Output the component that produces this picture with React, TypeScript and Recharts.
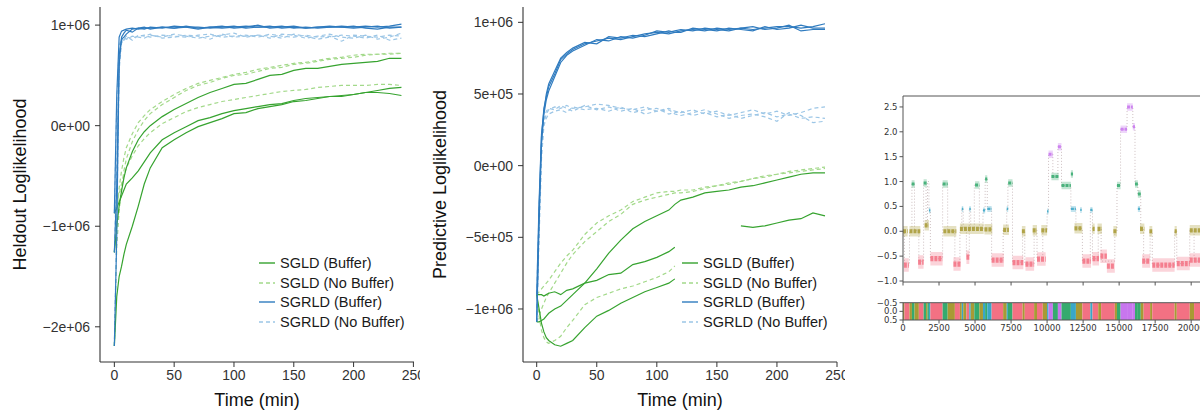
import React from 'react';
import { LineChart, Line, XAxis, YAxis, ReferenceArea, ReferenceLine } from 'recharts';

const FONT = '"Liberation Sans", Arial, sans-serif';
const PY_FONT = '"DejaVu Sans", sans-serif';

// ---- left panel: heldout loglikelihood (values in 1e4 units) ----
const heldTime = [0, 2, 4, 6, 8, 10, 15, 20, 25, 30, 40, 50, 60, 70, 80, 90, 100, 110, 120, 130, 140, 150, 160, 170, 180, 190, 200, 210, 220, 230, 240];
const heldSgldBuffer = [
  [-126, -100, -80, -65, -52, -42, -26, -14, -6, 0, 9, 16, 22, 28, 33, 37, 41, 42, 46, 50, 51, 55, 57, 57, 59, 61, 62, 63, 64, 67, 67],
  [-87, -82, -76, -70, -64, -58, -52, -45, -36, -27, -14, -7, -1, 5, 8, 12, 15, 17, 19, 21, 22, 25, 27, 28, 29, 29, 31, 33, 35, 37, 38],
  [-219, -170, -150, -140, -128, -118, -100, -80, -58, -42, -22, -14, -7, -1, 3, 7, 12, 13, 17, 19, 21, 24, 25, 27, 29, 30, 31, 33, 33, 32, 30],
];
const heldSgldNoBuffer = [
  [-126, -90, -62, -45, -32, -22, -8, 3, 10, 16, 24, 31, 37, 42, 45, 48, 51, 53, 56, 58, 60, 62, 63, 65, 67, 68, 70, 71, 71, 72, 72],
  [-219, -120, -85, -62, -45, -33, -16, -4, 5, 12, 21, 28, 35, 40, 43, 47, 50, 51, 54, 57, 58, 61, 62, 64, 66, 67, 68, 70, 71, 71, 72],
  [-87, -78, -68, -58, -50, -42, -30, -20, -13, -7, 2, 8, 14, 18, 21, 24, 26, 28, 30, 32, 34, 35, 36, 38, 39, 40, 40, 40, 41, 41, 40],
];
const heldSgrldBuffer = [
  [-87, 30, 88, 94, 95, 96, 97, 96, 97, 97, 98, 97, 99, 97, 98, 97, 98, 99, 98, 99, 97, 98, 97, 98, 98, 99, 98, 99, 98, 99, 101],
  [-126, -60, 60, 88, 92, 95, 93, 97, 96, 98, 97, 99, 98, 96, 98, 99, 97, 98, 100, 97, 98, 99, 97, 98, 99, 98, 97, 98, 99, 97, 98],
  [-219, -110, 70, 86, 88, 91, 96, 97, 98, 96, 98, 97, 98, 98, 97, 98, 99, 97, 98, 98, 99, 97, 98, 97, 98, 98, 99, 97, 96, 98, 98],
];
const heldSgrldNoBuffer = [
  [-87, 20, 80, 86, 85, 88, 87, 89, 90, 88, 90, 89, 88, 90, 91, 88, 89, 90, 88, 91, 89, 88, 90, 88, 89, 84, 90, 89, 88, 90, 89],
  [-126, -40, 72, 84, 88, 86, 89, 88, 87, 90, 88, 91, 89, 87, 89, 90, 92, 88, 90, 87, 91, 90, 87, 89, 91, 88, 87, 90, 86, 88, 92],
  [-219, -100, 55, 82, 86, 89, 85, 90, 89, 91, 87, 88, 90, 89, 86, 91, 88, 89, 90, 89, 87, 91, 89, 86, 88, 90, 89, 87, 90, 85, 87],
];
const heldTicks = [-2e6, -1e6, 0, 1e6];
const heldTickLabels = ['−2e+06', '−1e+06', '0e+00', '1e+06'];

// ---- middle panel: predictive loglikelihood (values in 1e4 units) ----
const predTime = [0, 2, 4, 6, 8, 10, 15, 20, 25, 30, 40, 50, 60, 70, 80, 90, 100, 110, 115, 120, 130, 140, 150, 160, 170, 180, 190, 200, 210, 220, 230, 240];
const _ = null;
const predSgldBuffer = [
  [-109, -109, -108, -107, -105, -103, -100, -98, -94, -90, -82, -72, -61, -52, -44, -39, -35, -31, -27, -24, -22, -19, -18, -17, -15, -14, -12, -10, -8, -6, -5, -5],
  [-90, -90, -90, -91, -90, -89, -88, -90, -87, -86, -82, -80, -76, -75, -69, -67, -64, -60, -57, _, _, _, _, _, _, _, _, _, _, _, _, _],
  [-90, -100, -110, -116, -120, -122, -125, -126, -124, -122, -113, -105, -101, -96, -92, -88, -85, -82, -79, _, _, _, _, _, _, _, _, _, _, _, _, _],
  [_, _, _, _, _, _, _, _, _, _, _, _, _, _, _, _, _, _, _, _, _, _, _, _, -42, -43, -42, -40, -38, -37, -33, -35],
];
const predSgldNoBuffer = [
  [-90, -88, -86, -84, -82, -80, -74, -68, -63, -59, -48, -40, -35, -31, -25, -22, -19, -18, -18, -17, -17, -15, -14, -12, -11, -9, -7, -6, -4, -3, -2, -1],
  [-109, -105, -100, -96, -92, -89, -82, -75, -68, -62, -53, -46, -39, -34, -27, -24, -22, -20, -19, -19, -18, -16, -14, -13, -11, -9, -8, -6, -5, -4, -3, -2],
  [-90, -105, -115, -120, -123, -124, -122, -119, -113, -108, -97, -92, -89, -86, -84, -81, -78, -74, -70, _, _, _, _, _, _, _, _, _, _, _, _, _],
];
const predSgrldBuffer = [
  [-109, -30, 20, 40, 48, 55, 64, 74, 78, 81, 85, 87, 89, 88, 90, 92, 93, 92, 93, 94, 95, 94, 96, 95, 96, 95, 96, 97, 97, 96, 97, 99],
  [-109, -40, 15, 36, 46, 52, 62, 72, 77, 80, 84, 88, 87, 90, 89, 91, 94, 93, 94, 95, 94, 96, 95, 94, 96, 97, 95, 96, 98, 94, 95, 95],
  [-90, -25, 22, 38, 50, 57, 66, 75, 79, 82, 86, 85, 90, 89, 91, 90, 92, 94, 93, 93, 96, 95, 94, 96, 95, 94, 97, 95, 96, 98, 96, 96],
];
const predSgrldNoBuffer = [
  [-109, -40, 10, 30, 36, 39, 41, 40, 42, 40, 41, 43, 42, 40, 39, 41, 38, 40, 38, 37, 39, 36, 38, 35, 37, 39, 36, 38, 35, 37, 40, 41],
  [-109, -50, 5, 28, 33, 36, 38, 39, 37, 41, 39, 40, 38, 41, 37, 39, 40, 36, 37, 38, 35, 37, 34, 36, 33, 35, 37, 34, 36, 33, 34, 33],
  [-90, -30, 15, 32, 38, 40, 39, 42, 40, 38, 42, 39, 41, 38, 40, 36, 38, 39, 36, 35, 37, 39, 36, 33, 35, 36, 34, 31, 37, 35, 30, 31],
];
const predTicks = [-1e6, -5e5, 0, 5e5, 1e6];
const predTickLabels = ['−1e+06', '−5e+05', '0e+00', '5e+05', '1e+06'];

const timeTicks = [0, 50, 100, 150, 200, 250];
const legendLabels = ['SGLD (Buffer)', 'SGLD (No Buffer)', 'SGRLD (Buffer)', 'SGRLD (No Buffer)'];
// method styles, same order as legendLabels
const methodColors = ['#36a32f', '#a3d98a', '#2f7bbf', '#9cc6e6'];
const methodDash = [undefined, '4 3', undefined, '4 3'];
const drawOrder = [1, 3, 0, 2];

// ---- right panel: state segmentation of a time series ----
const stateColors = ['#f37183', '#a89a34', '#39a7c8', '#35aa6e', '#c876ee'];
// state runs for the colour bar
const runStart = [0, 100, 450, 620, 800, 1100, 1430, 1600, 1700, 1800, 1900, 2750, 3100, 3600, 3950, 4080, 4180, 4400, 4600, 4700, 4950, 5300, 5550, 5700, 5850, 6150, 6950, 7200, 7280, 7600, 8300, 8450, 9100, 9300, 9700, 10000, 10100, 10400, 10750, 11000, 11650, 12000, 12450, 13000, 13150, 13550, 13750, 14700, 14850, 15100, 15550, 15950, 16100, 16300, 16500, 16700, 17150, 17300, 18850, 19000, 19900, 20200, 21000];
const runState = [1, 0, 1, 3, 1, 0, 3, 1, 3, 2, 0, 3, 1, 0, 1, 2, 1, 0, 2, 1, 3, 1, 2, 3, 2, 0, 1, 2, 3, 0, 1, 0, 1, 0, 1, 2, 4, 3, 4, 3, 2, 1, 0, 2, 0, 1, 0, 1, 3, 4, 4, 4, 3, 3, 1, 0, 1, 0, 1, 0, 1, 0, 1];
const runLevel = [0.0, -0.68, 0.0, 0.95, 0.02, -0.6, 0.97, 0.12, 1.0, 0.42, -0.55, 0.95, 0.0, -0.65, 0.02, 0.45, 0.06, -0.5, 0.45, 0.06, 0.93, 0.04, 0.42, 1.05, 0.45, -0.58, 0.03, 0.45, 0.97, -0.62, 0.0, -0.66, 0.02, -0.56, 0.03, 0.4, 1.55, 1.1, 1.7, 0.92, 0.45, 0.06, -0.6, 0.43, -0.55, 0.05, -0.6, 0.0, 0.92, 2.05, 2.5, 2.1, 0.95, 0.75, 0.05, -0.6, 0.0, -0.68, 0.0, -0.65, 0.02, -0.6, 0.0];
const seriesEnd = 22000;
// point clouds of the scatter: [start, end, level] per state
const pinkClusters = [[60, 400, -0.68], [1050, 1430, -0.62], [1900, 2750, -0.55], [3500, 4000, -0.66], [4400, 4600, -0.52], [6150, 7000, -0.58], [7600, 8350, -0.63], [8500, 9100, -0.66], [9300, 9900, -0.56], [12450, 13050, -0.6], [13150, 13600, -0.55], [13700, 14150, -0.5], [14150, 14700, -0.7], [16600, 17150, -0.6], [17300, 18850, -0.68], [19000, 19900, -0.65], [19900, 20800, -0.58]];
const oliveClusters = [[0, 320, 0.0], [450, 1200, 0.0], [1500, 1800, 0.12], [2800, 3700, 0.0], [3950, 5600, 0.05], [5650, 6200, 0.04], [6950, 7350, 0.03], [8250, 8500, 0.0], [9000, 9300, 0.02], [9600, 10000, 0.02], [11900, 12450, 0.06], [13150, 13300, 0.05], [13500, 13800, 0.05], [14600, 14850, 0.0], [16450, 16750, 0.05], [17100, 17300, 0.0], [18850, 19000, 0.0], [19900, 20800, 0.02]];
const blueClusters = [[1800, 1900, 0.42], [4080, 4180, 0.45], [4600, 4700, 0.45], [5550, 5700, 0.42], [5850, 6150, 0.45], [7200, 7300, 0.45], [10000, 10100, 0.4], [11650, 12000, 0.45], [12300, 12400, 0.43], [13000, 13150, 0.43], [16300, 16450, 0.45]];
const greenClusters = [[600, 800, 0.95], [1430, 1650, 0.97], [2750, 3100, 0.95], [5000, 5300, 0.93], [5700, 5850, 1.05], [7300, 7600, 0.97], [10300, 10800, 1.1], [11000, 11650, 0.92], [11650, 11800, 1.15], [14850, 15100, 0.92], [16100, 16300, 0.95], [16300, 16500, 0.75]];
const purpleClusters = [[10100, 10400, 1.55], [10750, 11000, 1.7], [15100, 15550, 2.05], [15550, 15950, 2.5], [15950, 16100, 2.1]];
const clusters = [pinkClusters, oliveClusters, blueClusters, greenClusters, purpleClusters];
const bandWidth = [9, 7, 4, 5, 5];

const scatterTicksX = [0, 2500, 5000, 7500, 10000, 12500, 15000, 17500, 20000];
const scatterTicksY = [-1, -0.5, 0, 0.5, 1, 1.5, 2, 2.5];
const scatterTickLabelsY = ['−1.0', '−0.5', '0.0', '0.5', '1.0', '1.5', '2.0', '2.5'];
const barTicksY = [-0.5, 0, 0.5];
const barTickLabelsY = ['−0.5', '0.0', '0.5'];

const runEnd = runStart.map((s, i) => (i + 1 < runStart.length ? runStart[i + 1] : seriesEnd));

function buildRows(time: number[], groups: (number | null)[][][]) {
  return time.map((t, i) => {
    const row: any = { t };
    groups.forEach((g, gi) =>
      g.forEach((run, ri) => {
        const v = run[i];
        row[`m${gi}r${ri}`] = v == null ? null : v * 1e4;
      })
    );
    return row;
  });
}

const heldGroups = [heldSgldBuffer, heldSgldNoBuffer, heldSgrldBuffer, heldSgrldNoBuffer];
const predGroups = [predSgldBuffer, predSgldNoBuffer, predSgrldBuffer, predSgrldNoBuffer];
const heldRows = buildRows(heldTime, heldGroups);
const predRows = buildRows(predTime, predGroups);

const axisColor = '#333';

const LegendBox = ({ left, top }: { left: number; top: number }) => (
  <div style={{ position: 'absolute', left, top, fontFamily: FONT, fontSize: 14.5, color: '#1a1a1a' }}>
    {legendLabels.map((lab, i) => (
      <div key={lab} style={{ height: 19.7, display: 'flex', alignItems: 'center', whiteSpace: 'nowrap' }}>
        <svg width={21} height={10} style={{ flex: 'none' }}>
          <line x1={0} y1={5} x2={16} y2={5} stroke={methodColors[i]} strokeWidth={1.4} strokeDasharray={methodDash[i]} />
        </svg>
        <span>{lab}</span>
      </div>
    ))}
  </div>
);

const LossPanel = ({ left, width, rows, groups, xDomain, yDomain, yTicks, yLabels, yTitle, yWidth, right }: any) => {
  const lines: any[] = [];
  drawOrder.forEach((gi) => {
    groups[gi].forEach((_r: any, ri: number) => {
      lines.push(
        <Line
          key={`m${gi}r${ri}`}
          dataKey={`m${gi}r${ri}`}
          type="linear"
          stroke={methodColors[gi]}
          strokeWidth={1.2}
          strokeDasharray={methodDash[gi]}
          dot={false}
          activeDot={false}
          connectNulls={false}
          isAnimationActive={false}
        />
      );
    });
  });
  return (
    <div style={{ position: 'absolute', left, top: 0 }}>
      <LineChart width={width} height={411} data={rows} margin={{ top: 7, right, left: 0, bottom: 0 }}>
        <XAxis
          dataKey="t"
          type="number"
          domain={xDomain}
          ticks={timeTicks}
          interval={0}
          allowDataOverflow
          height={49}
          tickSize={5}
          tickMargin={3}
          tick={{ fontSize: 14, fill: axisColor, fontFamily: FONT }}
          tickLine={{ stroke: axisColor }}
          axisLine={{ stroke: axisColor, strokeWidth: 1.1 }}
          label={(p: any) => (
            <text x={p.viewBox.x + p.viewBox.width / 2} y={p.viewBox.y + 44} textAnchor="middle" fontSize={18} fontFamily={FONT} fill="#111">
              Time (min)
            </text>
          )}
        />
        <YAxis
          type="number"
          domain={yDomain}
          ticks={yTicks}
          interval={0}
          allowDataOverflow
          width={yWidth}
          tickSize={5}
          tickMargin={5}
          tickFormatter={(v: number) => yLabels[yTicks.indexOf(v)]}
          tick={{ fontSize: 14, fill: axisColor, fontFamily: FONT }}
          tickLine={{ stroke: axisColor }}
          axisLine={{ stroke: axisColor, strokeWidth: 1.1 }}
          label={(p: any) => {
            const x = p.viewBox.x + 26;
            const y = p.viewBox.y + p.viewBox.height / 2;
            return (
              <text x={x} y={y} transform={`rotate(-90, ${x}, ${y})`} textAnchor="middle" fontSize={18} fontFamily={FONT} fill="#111">
                {yTitle}
              </text>
            );
          }}
        />
        {lines}
      </LineChart>
    </div>
  );
};

// step trail through all runs, and one band series per state
const trailData = runStart.map((s, i) => ({ x: s, y: runLevel[i] }));
trailData.push({ x: seriesEnd, y: runLevel[runLevel.length - 1] });
const bandData = clusters.map((list) => {
  const pts: any[] = [];
  list.forEach(([s, e, lv]) => {
    pts.push({ x: s, y: lv }, { x: e, y: lv }, { x: e, y: null });
  });
  return pts;
});

const pyTick = { fontSize: 8.5, fill: '#333', fontFamily: PY_FONT };
const spine = '#555';

const SegmentPanel = () => (
  <>
    <div style={{ position: 'absolute', left: 860, top: 80 }}>
      <LineChart width={380} height={210} margin={{ top: 16, right: 20, left: 0, bottom: 0 }}>
        <XAxis
          dataKey="x"
          type="number"
          domain={[0, seriesEnd]}
          ticks={scatterTicksX}
          interval={0}
          allowDataOverflow
          height={8}
          tickSize={3.5}
          tick={() => <g />}
          tickLine={{ stroke: spine }}
          axisLine={{ stroke: spine }}
        />
        <YAxis
          type="number"
          domain={[-1.02, 2.72]}
          ticks={scatterTicksY}
          interval={0}
          allowDataOverflow
          width={43}
          tickSize={3.5}
          tickMargin={2}
          tickFormatter={(v: number) => scatterTickLabelsY[scatterTicksY.indexOf(v)]}
          tick={pyTick}
          tickLine={{ stroke: spine }}
          axisLine={{ stroke: spine }}
        />
        <ReferenceLine y={2.72} stroke={spine} ifOverflow="visible" />
        <Line data={trailData} dataKey="y" type="stepAfter" stroke="#cdbfc0" strokeWidth={1} strokeDasharray="1 2" dot={false} activeDot={false} isAnimationActive={false} />
        {bandData.map((d, st) => (
          <Line
            key={`h${st}`}
            data={d}
            dataKey="y"
            type="linear"
            stroke={stateColors[st]}
            strokeWidth={bandWidth[st] * 1.5}
            strokeOpacity={0.3}
            dot={false}
            activeDot={false}
            connectNulls={false}
            isAnimationActive={false}
          />
        ))}
        {bandData.map((d, st) => (
          <Line
            key={`c${st}`}
            data={d}
            dataKey="y"
            type="linear"
            stroke={stateColors[st]}
            strokeWidth={bandWidth[st] * 0.6}
            strokeOpacity={0.85}
            strokeDasharray="3 1"
            dot={false}
            activeDot={false}
            connectNulls={false}
            isAnimationActive={false}
          />
        ))}
      </LineChart>
    </div>
    <div style={{ position: 'absolute', left: 860, top: 290 }}>
      <LineChart width={380} height={62} data={trailData} margin={{ top: 12.7, right: 20, left: 0, bottom: 0 }}>
        <XAxis
          dataKey="x"
          type="number"
          domain={[0, seriesEnd]}
          ticks={scatterTicksX}
          interval={0}
          allowDataOverflow
          height={32}
          tickSize={3.5}
          tickMargin={1}
          tick={pyTick}
          tickLine={{ stroke: spine }}
          axisLine={{ stroke: spine }}
        />
        <YAxis
          type="number"
          domain={[-0.5, 0.5]}
          reversed
          allowDataOverflow
          ticks={barTicksY}
          interval={0}
          width={43}
          tickSize={3.5}
          tickMargin={2}
          tickFormatter={(v: number) => barTickLabelsY[barTicksY.indexOf(v)]}
          tick={pyTick}
          tickLine={{ stroke: spine }}
          axisLine={{ stroke: spine }}
        />
        <Line dataKey="y" stroke="none" dot={false} activeDot={false} isAnimationActive={false} />
        {runStart.map((s, i) => (
          <ReferenceArea key={i} x1={s} x2={runEnd[i]} y1={-0.5} y2={0.5} fill={stateColors[runState[i]]} fillOpacity={1} stroke="none" ifOverflow="hidden" />
        ))}
        <ReferenceLine y={-0.5} stroke={spine} ifOverflow="visible" />
      </LineChart>
    </div>
  </>
);

export default function App() {
  return (
    <div style={{ position: 'absolute', left: 0, top: 0, width: 1200, height: 411, overflow: 'hidden', background: '#fff' }}>
      <LossPanel
        left={0}
        width={420}
        rows={heldRows}
        groups={heldGroups}
        xDomain={[-12, 250.5]}
        yDomain={[-2.35e6, 1.18e6]}
        yTicks={heldTicks}
        yLabels={heldTickLabels}
        yTitle="Heldout Loglikelihood"
        yWidth={100}
        right={6}
      />
      <LegendBox left={259} top={253} />
      <LossPanel
        left={420}
        width={425}
        rows={predRows}
        groups={predGroups}
        xDomain={[-11.4, 250]}
        yDomain={[-1.37e6, 1.107e6]}
        yTicks={predTicks}
        yLabels={predTickLabels}
        yTitle="Predictive Loglikelihood"
        yWidth={103}
        right={8}
      />
      <LegendBox left={682} top={253} />
      <SegmentPanel />
    </div>
  );
}
